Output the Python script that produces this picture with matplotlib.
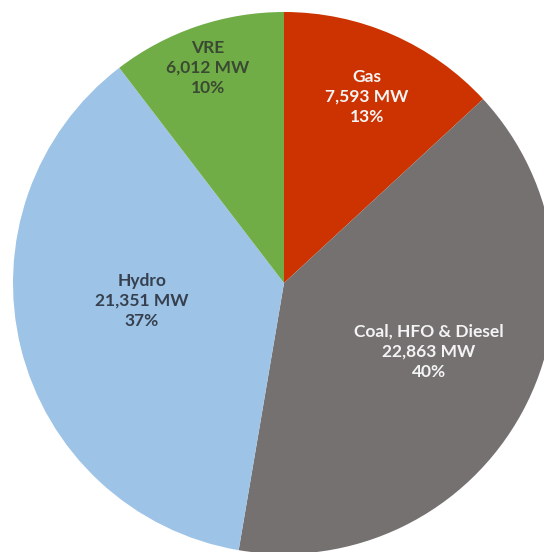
import matplotlib.pyplot as plt

labels = ['Gas', 'Coal, HFO & Diesel', 'Hydro', 'VRE']
capacity_mw = [7593, 22863, 21351, 6012]
shares = ['13%', '40%', '37%', '10%']
colors = ['#CC3300', '#767171', '#9DC3E6', '#70AD47']
text_colors = ['#F4F4F4', '#F4F4F4', '#36404E', '#3A4A32']

# label centres in pixel coordinates (y measured from top)
label_xy = [(367, 97), (429, 352), (142, 301), (208, 68)]

W, H = 544, 552
fig = plt.figure(figsize=(W / 100, H / 100), dpi=100)
ax = fig.add_axes([0, 0, 1, 1])

cx, cy, r = 284, 283, 271
ax.pie(capacity_mw, colors=colors, startangle=90, counterclock=False,
       center=(cx, H - cy), radius=r,
       wedgeprops=dict(linewidth=0, antialiased=True))
ax.set_xlim(0, W)
ax.set_ylim(0, H)
ax.set_aspect('equal')
ax.axis('off')

for lab, mw, pct, col, (x, y) in zip(labels, capacity_mw, shares, text_colors, label_xy):
    txt = f'{lab}\n{mw:,} MW\n{pct}'
    ax.text(x, H - y, txt, ha='center', va='center', color=col,
            fontsize=12.5, fontweight='bold', family='Lato', linespacing=1.32)

fig.savefig('out.png', dpi=100)
